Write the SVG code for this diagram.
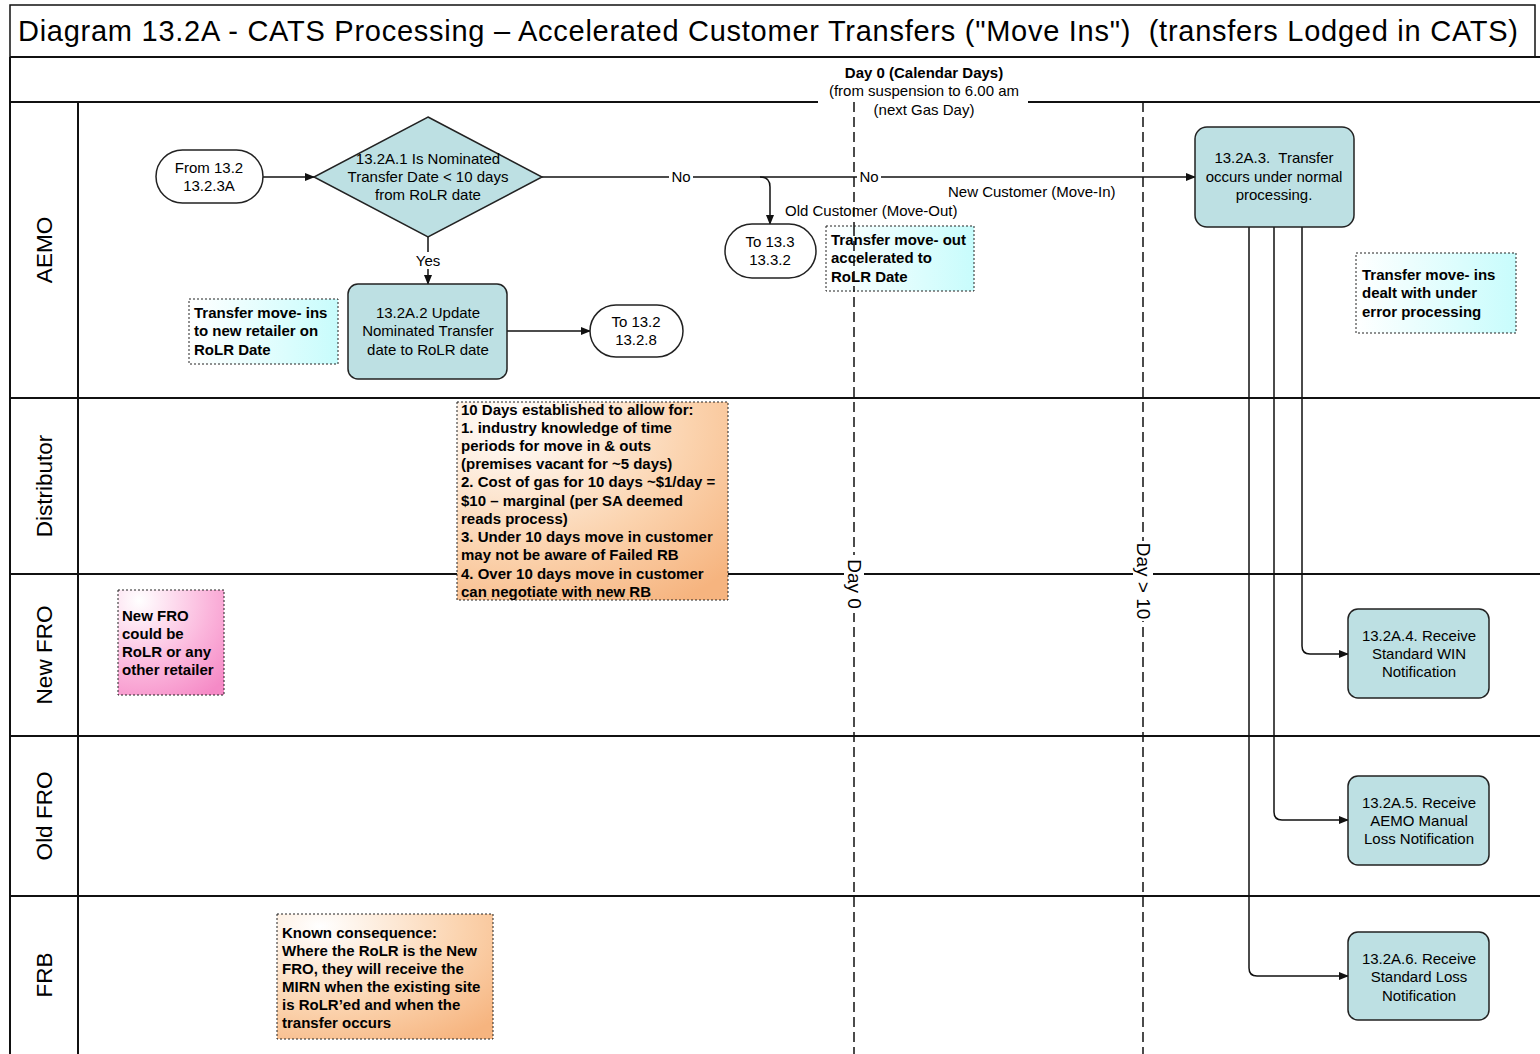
<svg xmlns="http://www.w3.org/2000/svg" width="1540" height="1054" viewBox="0 0 1540 1054">
<defs>
<style>
text{font-family:"Liberation Sans",Arial,sans-serif;fill:#000}
.t{font-size:15px;text-anchor:middle}
.nb{font-size:15px;font-weight:bold}
.lane{font-size:22.5px;text-anchor:middle}
.box{fill:#bde0e3;stroke:#222;stroke-width:1.5}
.term{fill:#fff;stroke:#222;stroke-width:1.5}
.ln{stroke:#111;stroke-width:2;fill:none}
.cn{stroke:#111;stroke-width:1.5;fill:none}
.dash{stroke:#111;stroke-width:1.5;stroke-dasharray:10 5;fill:none}
.note{stroke:#222;stroke-width:1;stroke-dasharray:2 2}
.lbl{font-size:15px}
</style>
<marker id="ah" markerWidth="10" markerHeight="10" refX="9" refY="5" orient="auto" markerUnits="userSpaceOnUse">
<path d="M0,1 L10,5 L0,9 Z" fill="#111"/>
</marker>
<linearGradient id="cyan" x1="0" y1="0" x2="1" y2="0">
<stop offset="0" stop-color="#ffffff"/>
<stop offset="1" stop-color="#c8fcfc"/>
</linearGradient>
<radialGradient id="orange" cx="0.2" cy="0.1" r="1.1">
<stop offset="0" stop-color="#ffffff"/>
<stop offset="0.6" stop-color="#fbd3ae"/>
<stop offset="1" stop-color="#f6b47f"/>
</radialGradient>
<radialGradient id="pink" cx="0.2" cy="0.1" r="1.1">
<stop offset="0" stop-color="#ffffff"/>
<stop offset="0.6" stop-color="#fbb6dc"/>
<stop offset="1" stop-color="#f58ac6"/>
</radialGradient>
</defs>
<rect x="0" y="0" width="1540" height="1054" fill="#fff"/>

<g id="frame">
<rect x="10" y="5" width="1525" height="52" fill="#fff" stroke="#111" stroke-width="1.5"/>
<text x="18" y="41" xml:space="preserve" textLength="1500" lengthAdjust="spacing" style="font-size:29px">Diagram 13.2A - CATS Processing – Accelerated Customer Transfers ("Move Ins")  (transfers Lodged in CATS)</text>
<line class="ln" x1="10" y1="57" x2="10" y2="1054"/>
<line class="ln" x1="10" y1="57" x2="1540" y2="57"/>
<line class="ln" x1="10" y1="102" x2="818" y2="102"/>
<line class="ln" x1="1028" y1="102" x2="1540" y2="102"/>
<line class="ln" x1="78" y1="102" x2="78" y2="1054"/>
<line class="ln" x1="10" y1="398" x2="1540" y2="398"/>
<line class="ln" x1="10" y1="574" x2="1540" y2="574"/>
<line class="ln" x1="10" y1="736" x2="1540" y2="736"/>
<line class="ln" x1="10" y1="896" x2="1540" y2="896"/>
<text class="lane" transform="translate(52,250) rotate(-90)">AEMO</text>
<text class="lane" transform="translate(52,486) rotate(-90)">Distributor</text>
<text class="lane" transform="translate(52,655) rotate(-90)">New FRO</text>
<text class="lane" transform="translate(52,816) rotate(-90)">Old FRO</text>
<text class="lane" transform="translate(52,975) rotate(-90)">FRB</text>
<text x="924" y="78" style="font-size:15px;font-weight:bold;text-anchor:middle">Day 0 (Calendar Days)</text>
<text x="924" y="96" class="t">(from suspension to 6.00 am</text>
<text x="924" y="115" class="t">(next Gas Day)</text>
<line class="dash" x1="854" y1="102" x2="854" y2="1054"/>
<line class="dash" x1="1143" y1="102" x2="1143" y2="1054"/>
<rect x="844" y="555" width="20" height="58" fill="#fff"/>
<text transform="translate(847.500,584) rotate(90)" style="font-size:19px;text-anchor:middle">Day 0</text>
<rect x="1133" y="541" width="20" height="80" fill="#fff"/>
<text transform="translate(1136.500,581) rotate(90)" style="font-size:19px;text-anchor:middle">Day &gt; 10</text>
</g>

<g id="connectors">
<line class="cn" x1="263" y1="177" x2="314" y2="177" marker-end="url(#ah)"/>
<line class="cn" x1="428" y1="237" x2="428" y2="284" marker-end="url(#ah)"/>
<rect x="412" y="252" width="32" height="17" fill="#fff"/>
<text x="428" y="266" class="t">Yes</text>
<line class="cn" x1="507" y1="331" x2="590" y2="331" marker-end="url(#ah)"/>
<line class="cn" x1="542" y1="177" x2="1195" y2="177" marker-end="url(#ah)"/>
<path class="cn" d="M760,177 Q770,177 770,187 L770,224" marker-end="url(#ah)"/>
<rect x="669" y="169" width="24" height="16" fill="#fff"/>
<text x="681" y="182" class="t">No</text>
<rect x="857" y="169" width="24" height="16" fill="#fff"/>
<text x="869" y="182" class="t">No</text>
<text x="785" y="216" class="lbl">Old Customer (Move-Out)</text>
<text x="948" y="197" class="lbl">New Customer (Move-In)</text>
<path class="cn" d="M1302,227 L1302,646 Q1302,654 1310,654 L1348,654" marker-end="url(#ah)"/>
<path class="cn" d="M1274,227 L1274,812 Q1274,820 1282,820 L1348,820" marker-end="url(#ah)"/>
<path class="cn" d="M1249,227 L1249,968 Q1249,976 1257,976 L1348,976" marker-end="url(#ah)"/>
</g>

<g id="from-13-2-3A">
<rect class="term" x="156" y="150" width="107" height="53" rx="26.500"/>
<text x="209" y="173" class="t">From 13.2</text>
<text x="209" y="191" class="t">13.2.3A</text>
</g>

<g id="decision-13-2A-1">
<polygon class="box" points="428,117 542,177 428,237 314,177"/>
<text x="428" y="164" class="t">13.2A.1 Is Nominated</text>
<text x="428" y="182" class="t">Transfer Date &lt; 10 days</text>
<text x="428" y="200" class="t">from RoLR date</text>
</g>

<g id="box-13-2A-2">
<rect class="box" x="348" y="284" width="159" height="95" rx="10"/>
<text x="428" y="318" class="t">13.2A.2 Update</text>
<text x="428" y="336" class="t">Nominated Transfer</text>
<text x="428" y="355" class="t">date to RoLR date</text>
</g>

<g id="to-13-2-8">
<rect class="term" x="590" y="305" width="93" height="52" rx="26"/>
<text x="636" y="327" class="t">To 13.2</text>
<text x="636" y="345" class="t">13.2.8</text>
</g>

<g id="to-13-3-2">
<rect class="term" x="725" y="224" width="91" height="54" rx="27"/>
<text x="770" y="247" class="t">To 13.3</text>
<text x="770" y="265" class="t">13.3.2</text>
</g>

<g id="note-move-ins">
<rect class="note" x="189" y="299" width="149" height="65" fill="url(#cyan)"/>
<text x="194" y="318" class="nb">Transfer move- ins</text>
<text x="194" y="336" class="nb">to new retailer on</text>
<text x="194" y="355" class="nb">RoLR Date</text>
</g>

<g id="note-move-out">
<rect class="note" x="826" y="226" width="148" height="65" fill="url(#cyan)"/>
<text x="831" y="245" class="nb">Transfer move- out</text>
<text x="831" y="263" class="nb">accelerated to</text>
<text x="831" y="282" class="nb">RoLR Date</text>
<line x1="854" y1="226" x2="854" y2="291" class="dash"/>
</g>

<g id="box-13-2A-3">
<rect class="box" x="1195" y="127" width="159" height="100" rx="12"/>
<text x="1274" y="163" class="t" xml:space="preserve">13.2A.3.  Transfer</text>
<text x="1274" y="182" class="t">occurs under normal</text>
<text x="1274" y="200" class="t">processing.</text>
</g>

<g id="note-error">
<rect class="note" x="1356" y="253" width="160" height="80" fill="url(#cyan)"/>
<text x="1362" y="280" class="nb">Transfer move- ins</text>
<text x="1362" y="298" class="nb">dealt with under</text>
<text x="1362" y="317" class="nb">error processing</text>
</g>

<g id="note-10-days">
<rect class="note" x="457" y="402" width="271" height="198" fill="url(#orange)"/>
<text x="461" y="415" class="nb">10 Days established to allow for:</text>
<text x="461" y="433" class="nb">1. industry knowledge of time</text>
<text x="461" y="451" class="nb">periods for move in &amp; outs</text>
<text x="461" y="469" class="nb">(premises vacant for ~5 days)</text>
<text x="461" y="487" class="nb">2. Cost of gas for 10 days ~$1/day =</text>
<text x="461" y="506" class="nb">$10 – marginal (per SA deemed</text>
<text x="461" y="524" class="nb">reads process)</text>
<text x="461" y="542" class="nb">3. Under 10 days move in customer</text>
<text x="461" y="560" class="nb">may not be aware of Failed RB</text>
<text x="461" y="579" class="nb">4. Over 10 days move in customer</text>
<text x="461" y="597" class="nb">can negotiate with new RB</text>
</g>

<g id="note-new-fro">
<rect class="note" x="118" y="590" width="106" height="105" fill="url(#pink)"/>
<text x="122" y="621" class="nb">New FRO</text>
<text x="122" y="639" class="nb">could be</text>
<text x="122" y="657" class="nb">RoLR or any</text>
<text x="122" y="675" class="nb">other retailer</text>
</g>

<g id="note-known">
<rect class="note" x="277" y="914" width="216" height="125" fill="url(#orange)"/>
<text x="282" y="938" class="nb">Known consequence:</text>
<text x="282" y="956" class="nb">Where the RoLR is the New</text>
<text x="282" y="974" class="nb">FRO, they will receive the</text>
<text x="282" y="992" class="nb">MIRN when the existing site</text>
<text x="282" y="1010" class="nb">is RoLR’ed and when the</text>
<text x="282" y="1028" class="nb">transfer occurs</text>
</g>

<g id="box-13-2A-4">
<rect class="box" x="1348" y="609" width="141" height="89" rx="10"/>
<text x="1419" y="641" class="t">13.2A.4. Receive</text>
<text x="1419" y="659" class="t">Standard WIN</text>
<text x="1419" y="677" class="t">Notification</text>
</g>

<g id="box-13-2A-5">
<rect class="box" x="1348" y="776" width="141" height="89" rx="10"/>
<text x="1419" y="808" class="t">13.2A.5. Receive</text>
<text x="1419" y="826" class="t">AEMO Manual</text>
<text x="1419" y="844" class="t">Loss Notification</text>
</g>

<g id="box-13-2A-6">
<rect class="box" x="1348" y="932" width="141" height="88" rx="10"/>
<text x="1419" y="964" class="t">13.2A.6. Receive</text>
<text x="1419" y="982" class="t">Standard Loss</text>
<text x="1419" y="1001" class="t">Notification</text>
</g>
</svg>
